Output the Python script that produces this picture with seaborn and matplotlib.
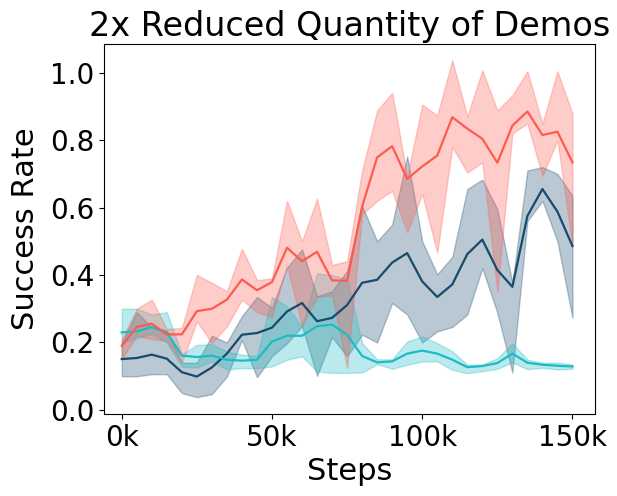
import matplotlib
matplotlib.use("Agg")
import matplotlib.pyplot as plt
from matplotlib.ticker import FuncFormatter
import numpy as np
import pandas as pd
import seaborn as sns

# steps every 5k, 0..150k
steps = np.arange(0, 150001, 5000)

full_mean = [0.190, 0.246, 0.256, 0.224, 0.224, 0.293, 0.300, 0.327, 0.387, 0.355, 0.379,
             0.481, 0.441, 0.469, 0.384, 0.383, 0.603, 0.749, 0.782, 0.693, 0.722,
             0.754, 0.868, 0.834, 0.804, 0.733, 0.843, 0.885, 0.815, 0.825, 0.734]
full_low = [0.150, 0.220, 0.210, 0.205, 0.140, 0.263, 0.198, 0.248, 0.327, 0.290, 0.275,
            0.430, 0.250, 0.335, 0.340, 0.125, 0.580, 0.620, 0.650, 0.527, 0.640,
            0.466, 0.780, 0.704, 0.734, 0.352, 0.820, 0.850, 0.694, 0.800, 0.486]
full_high = [0.210, 0.300, 0.327, 0.240, 0.243, 0.400, 0.377, 0.352, 0.478, 0.385, 0.390,
             0.620, 0.500, 0.627, 0.430, 0.441, 0.710, 0.888, 0.940, 0.685, 0.905,
             0.873, 1.037, 0.870, 1.007, 0.888, 0.933, 1.004, 0.848, 1.004, 0.878]

navy_mean = [0.151, 0.154, 0.164, 0.152, 0.112, 0.099, 0.126, 0.167, 0.223, 0.228, 0.244,
             0.292, 0.317, 0.263, 0.273, 0.311, 0.377, 0.386, 0.437, 0.465, 0.381,
             0.335, 0.372, 0.462, 0.505, 0.415, 0.365, 0.575, 0.655, 0.588, 0.486]
navy_low = [0.100, 0.100, 0.106, 0.106, 0.050, 0.038, 0.047, 0.099, 0.208, 0.097, 0.159,
            0.198, 0.248, 0.101, 0.216, 0.159, 0.223, 0.200, 0.317, 0.283, 0.200,
            0.233, 0.246, 0.283, 0.420, 0.288, 0.111, 0.560, 0.620, 0.500, 0.273]
navy_high = [0.198, 0.290, 0.245, 0.235, 0.140, 0.140, 0.220, 0.200, 0.278, 0.335, 0.303,
             0.422, 0.476, 0.337, 0.352, 0.412, 0.605, 0.500, 0.550, 0.752, 0.500,
             0.402, 0.454, 0.655, 0.683, 0.595, 0.377, 0.710, 0.720, 0.700, 0.635]

teal_mean = [0.230, 0.233, 0.246, 0.230, 0.161, 0.157, 0.161, 0.149, 0.146, 0.149, 0.203,
             0.220, 0.220, 0.248, 0.253, 0.223, 0.160, 0.141, 0.144, 0.167, 0.176,
             0.167, 0.149, 0.127, 0.130, 0.139, 0.167, 0.140, 0.134, 0.131, 0.129]
teal_low = [0.198, 0.213, 0.226, 0.200, 0.128, 0.126, 0.144, 0.120, 0.124, 0.124, 0.129,
            0.149, 0.159, 0.114, 0.110, 0.110, 0.111, 0.136, 0.122, 0.134, 0.144,
            0.144, 0.119, 0.109, 0.115, 0.122, 0.141, 0.121, 0.125, 0.120, 0.122]
teal_high = [0.300, 0.300, 0.283, 0.290, 0.165, 0.193, 0.195, 0.173, 0.164, 0.160, 0.335,
             0.307, 0.248, 0.405, 0.400, 0.387, 0.198, 0.150, 0.150, 0.203, 0.218,
             0.198, 0.174, 0.134, 0.135, 0.153, 0.198, 0.149, 0.140, 0.140, 0.135]

series = {
    "navy": (navy_low, navy_mean, navy_high),
    "teal": (teal_low, teal_mean, teal_high),
    "full": (full_low, full_mean, full_high),
}
colors = {"navy": "#174a6b", "teal": "#1bbcc4", "full": "#ff5a4e"}

rows = []
for name, (lo, mid, hi) in series.items():
    for s, a, b, c in zip(steps, lo, mid, hi):
        for v in (a, b, c):
            rows.append({"method": name, "step": s, "rate": v})
df = pd.DataFrame(rows)

fig = plt.figure(figsize=(6.17, 4.96), dpi=100)
ax = fig.add_axes([104 / 617, 1 - 414 / 496, 491 / 617, 370 / 496])

# median of (low, mean, high) is the mean line; min/max give the band
sns.lineplot(data=df, x="step", y="rate", hue="method", hue_order=list(series),
             palette=colors, estimator="median",
             errorbar=lambda v: (v.min(), v.max()),
             err_kws={"alpha": 0.3, "linewidth": 1}, linewidth=1.6,
             legend=False, ax=ax)

ax.set_xlim(-5900, 157500)
ax.set_ylim(-0.012, 1.085)
ax.set_xticks([0, 50000, 100000, 150000])
ax.xaxis.set_major_formatter(FuncFormatter(lambda x, p: f"{int(x / 1000)}k"))
ax.set_yticks([0.0, 0.2, 0.4, 0.6, 0.8, 1.0])
ax.tick_params(labelsize=20)
ax.set_xlabel("Steps", fontsize=22)
ax.set_ylabel("Success Rate", fontsize=22, labelpad=7)
ax.set_title("2x Reduced Quantity of Demos", fontsize=24)

fig.savefig("out.png", dpi=100)
